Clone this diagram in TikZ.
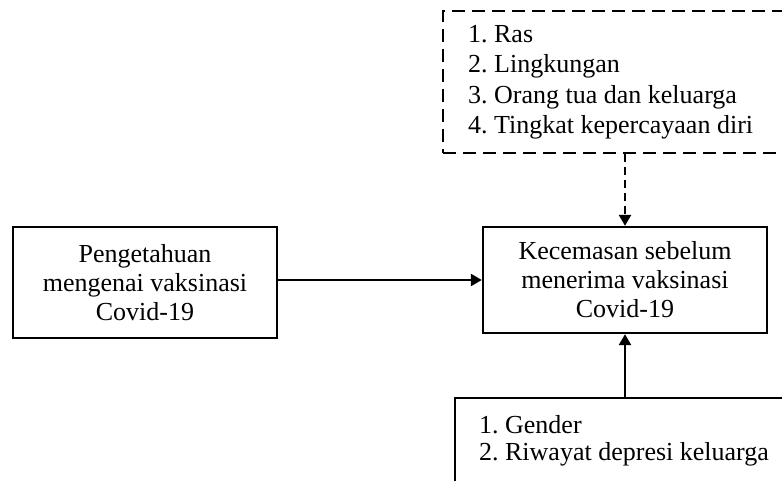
\documentclass[tikz,border=0pt]{standalone}
\usepackage{fontspec}
\setmainfont{Liberation Serif}
\usepackage{tikz}
\usetikzlibrary{arrows.meta,positioning}
\tikzset{kotak/.style={draw, line width=2.3pt, align=center, inner sep=0pt, font=\fontsize{26}{29}\selectfont\frenchspacing},
	kotak putus/.style={kotak, dash pattern=on 13pt off 7pt, align=flush left},
	panah/.style={line width=2.3pt, arrows = {-Triangle[length=11pt, width=12pt]}}}

\begin{document}
\begin{tikzpicture}[x=1pt,y=-1pt]
	\useasboundingbox (0,0) rectangle (782,481);
	\clip (0,0) rectangle (782,481);
	
	\node[kotak, minimum width=264, minimum height=111] (tahu) at (145,282.5) {Pengetahuan\\mengenai vaksinasi\\Covid-19};
	\node[kotak, minimum width=284, minimum height=106] (cemas) at (625,280) {Kecemasan sebelum\\menerima vaksinasi\\Covid-19};
	
	\node[kotak putus, anchor=north west, text width=330, inner xsep=25pt, minimum height=142, font=\fontsize{26}{30.5}\selectfont\frenchspacing] (faktor) at (442,10) {1. Ras\\2. Lingkungan\\3. Orang tua dan keluarga\\4. Tingkat kepercayaan diri};
	
	\node[kotak, align=flush left, anchor=north west, text width=330, inner xsep=24pt, inner ysep=17pt, font=\fontsize{26}{27.5}\selectfont\frenchspacing] (lain) at (454,397) {1. Gender\\2. Riwayat depresi keluarga\\ \strut};
	
	\draw[panah] (cemas.west -| tahu.east) -- (cemas.west);
	\draw[panah, dash pattern=on 8pt off 5pt] (faktor.south -| cemas) -- (cemas.north);
	\draw[panah] (lain.north -| cemas) -- (cemas.south);
\end{tikzpicture}
\end{document}
